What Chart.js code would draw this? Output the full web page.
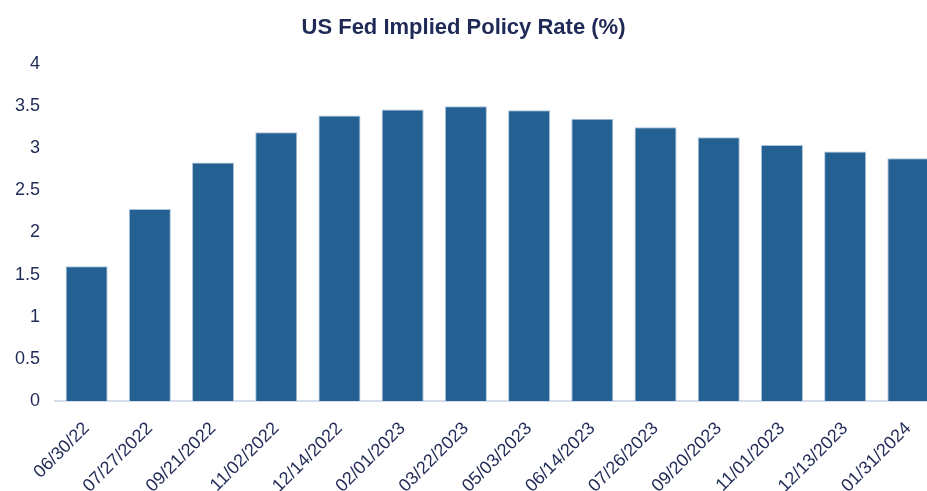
<!DOCTYPE html>
<html>
<head>
<meta charset="utf-8">
<script src="https://cdn.jsdelivr.net/npm/chart.js@4"></script>
<style>
  html, body { margin: 0; padding: 0; background: #fff; overflow: hidden; }
  #wrap { position: relative; width: 927px; height: 491px; overflow: hidden; }
  #rateChart { position: absolute; left: 0; top: 0; }
  #title {
    position: absolute; left: 0; top: 14px; width: 927px;
    text-align: center; line-height: 28px;
    font: bold 22px 'Liberation Sans', Arial, sans-serif; color: #1f2a56;
  }
</style>
</head>
<body>
<div id="wrap">
  <canvas id="rateChart" width="940" height="491"></canvas>
  <div id="title">US Fed Implied Policy Rate (%)</div>
</div>
<script>
/* ---- DATA ---- */
const meetingDates = [
  '06/30/22', '07/27/2022', '09/21/2022', '11/02/2022', '12/14/2022',
  '02/01/2023', '03/22/2023', '05/03/2023', '06/14/2023', '07/26/2023',
  '09/20/2023', '11/01/2023', '12/13/2023', '01/31/2024'
];
const impliedRate = [1.6, 2.28, 2.83, 3.19, 3.39, 3.46, 3.5, 3.45, 3.35, 3.25, 3.13, 3.04, 2.96, 2.88];
const yTicks = [0, 0.5, 1, 1.5, 2, 2.5, 3, 3.5, 4];

const NAVY = '#1f2a56';
const BAR = '#246192';
const FONT = 'Liberation Sans, Arial, sans-serif';

new Chart(document.getElementById('rateChart'), {
  type: 'bar',
  data: {
    labels: meetingDates,
    datasets: [{
      label: 'Implied Policy Rate',
      data: impliedRate,
      backgroundColor: BAR,
      borderColor: '#a9c2db',
      borderWidth: 1,
      borderSkipped: 'bottom',
      barPercentage: 0.665,
      categoryPercentage: 1
    }]
  },
  options: {
    responsive: false,
    animation: false,
    devicePixelRatio: 1,
    layout: { padding: { left: 15, right: 0, top: 64, bottom: 0 } },
    plugins: {
      legend: { display: false },
      tooltip: { enabled: false },
      title: { display: false }
    },
    scales: {
      x: {
        grid: { display: false, drawTicks: false },
        border: { display: true, color: '#d5dcec', width: 2 },
        ticks: {
          color: NAVY,
          font: { family: FONT, size: 18 },
          minRotation: 45, maxRotation: 45,
          padding: 17,
          autoSkip: false
        },
        afterFit: s => { s.paddingLeft = 0; s.paddingRight = 0; s.height = 90; }
      },
      y: {
        min: 0, max: 4,
        afterBuildTicks: axis => { axis.ticks = yTicks.map(v => ({ value: v })); },
        grid: { display: false, drawTicks: false },
        border: { display: false },
        ticks: {
          color: NAVY,
          font: { family: FONT, size: 18 },
          padding: 15,
          callback: v => String(v)
        },
        afterFit: s => { s.paddingTop = 0; s.paddingBottom = 0; s.width = 40; }
      }
    }
  }
});
</script>
</body>
</html>
